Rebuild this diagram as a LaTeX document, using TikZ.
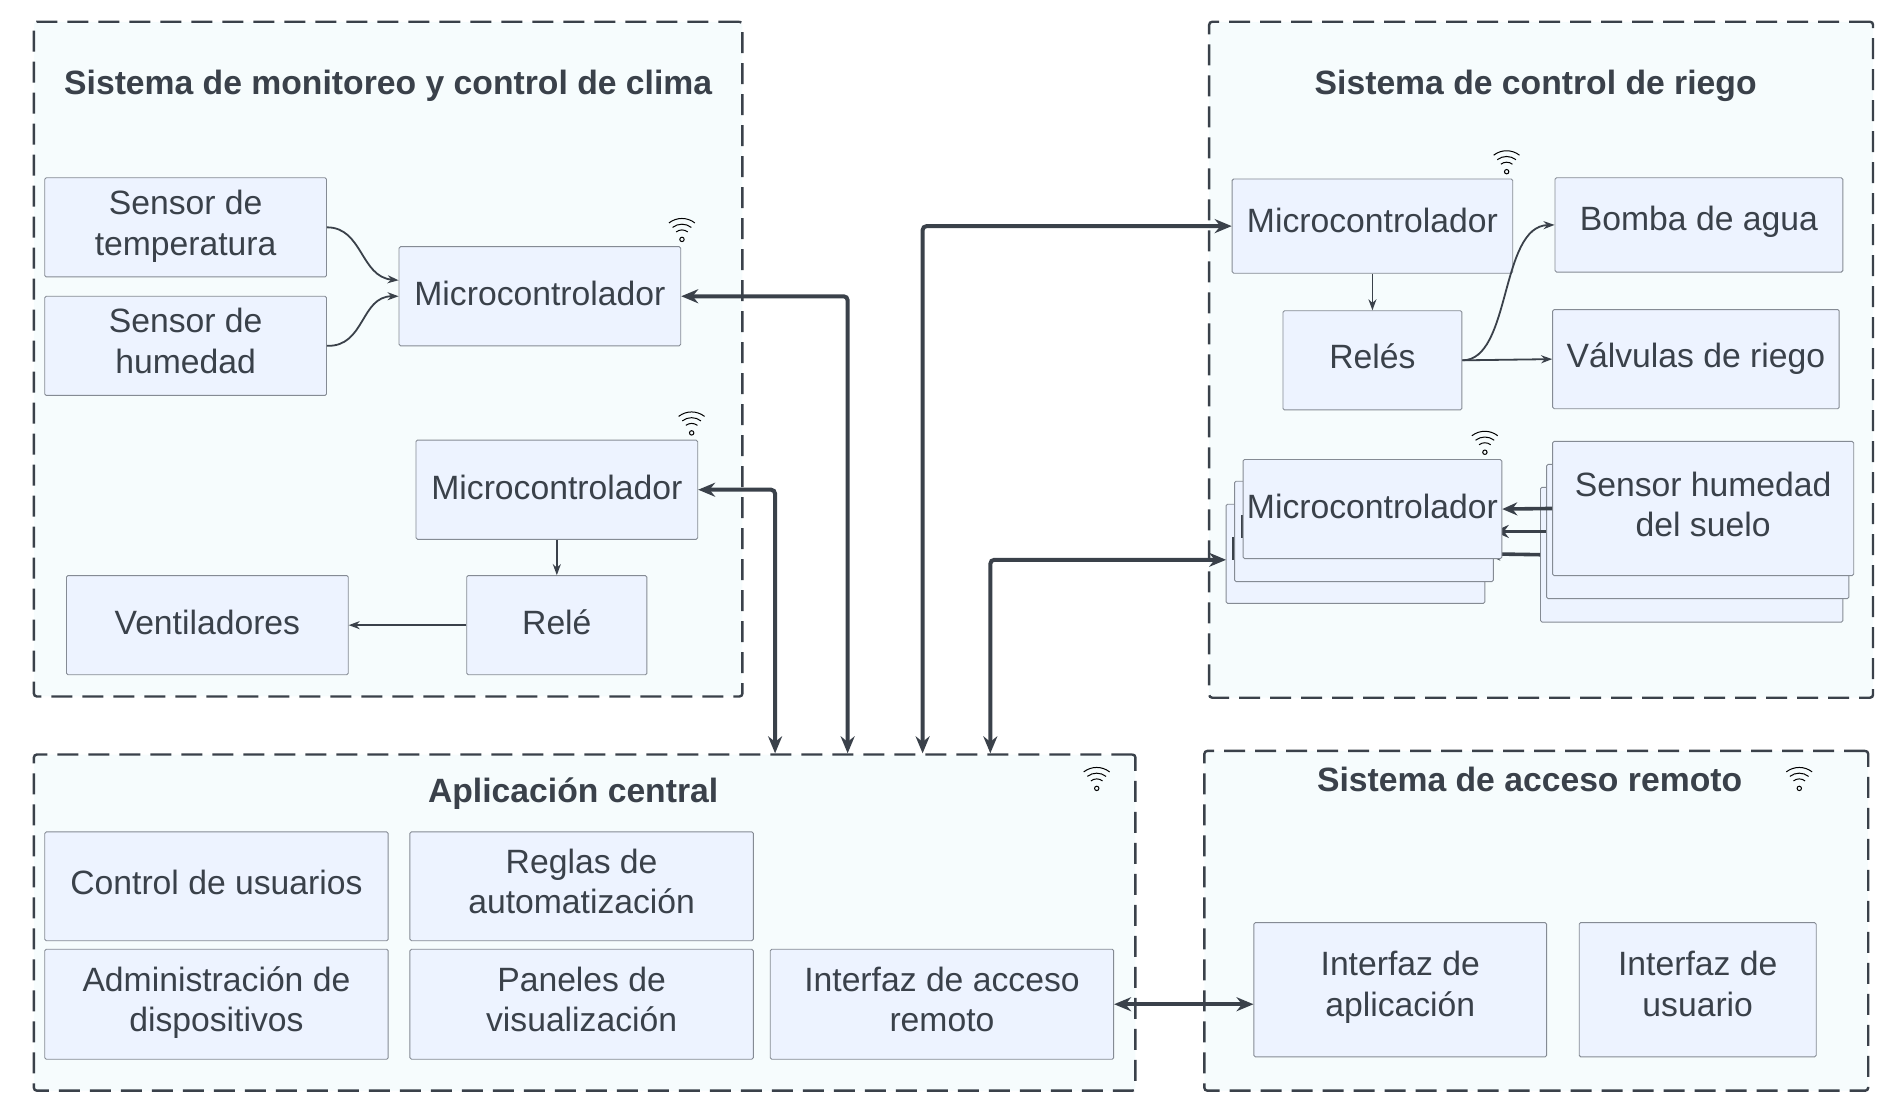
\documentclass[tikz,border=0pt]{standalone}
\usepackage{fontspec}
\setmainfont{Liberation Sans}
\usetikzlibrary{arrows.meta}
\definecolor{ink}{HTML}{3A414A}
\definecolor{grp}{HTML}{F6FCFD}
\definecolor{bxf}{HTML}{EDF3FF}
\definecolor{bxl}{HTML}{858B94}
\tikzset{
  x=1.2092pt,y=-1.2092pt,
  lbl/.style={font=\fontsize{33.7}{40.5}\selectfont,text=ink},
  bxs/.style={draw=bxl,line width=0.9pt,fill=bxf,rounded corners=1.5pt,inner sep=0pt,lbl},
  grps/.style={draw=ink,line width=2.4pt,fill=grp,rounded corners=3pt,dash pattern=on 21pt off 10pt,inner sep=0pt},
  ttl/.style={font=\fontsize{33.7}{40.5}\selectfont\bfseries,text=ink,inner sep=0pt,text height=25pt,text depth=7pt},
  thick arrow/.style={draw=ink,line width=4pt,rounded corners=4pt,{Stealth[length=17pt,width=14pt]}-{Stealth[length=17pt,width=14pt]}},
  thin arrow/.style={draw=ink,line width=1.8pt,-{Stealth[length=11pt,width=8pt]}},
  mid arrow/.style={draw=ink,line width=3.6pt,-{Stealth[length=15pt,width=13pt]}},
  wifi/.pic={
    \draw[black,line width=1pt] (0pt,0pt) circle[radius=2.2pt];
    \draw[black,line width=1pt] (-5.8pt,7.5pt) arc[start angle=128,end angle=52,radius=9.4pt];
    \draw[black,line width=1pt] (-9.4pt,12pt) arc[start angle=128,end angle=52,radius=15.2pt];
    \draw[black,line width=1pt] (-13pt,16.5pt) arc[start angle=128,end angle=52,radius=21pt];
  }
}
\newcommand\lbox[7][-8pt]{%
  \pgfmathsetlengthmacro{\bw}{(#5-#3)*1.2092pt}%
  \pgfmathsetlengthmacro{\bh}{(#6-#4)*1.2092pt}%
  \node[bxs,minimum width=\bw,minimum height=\bh] (#2) at ({(#3+#5)/2},{(#4+#6)/2})
    {\raisebox{#1}[0pt][0pt]{\begin{tabular}{@{}c@{}}#7\end{tabular}}};%
}
\newcommand\gbox[5]{%
  \pgfmathsetlengthmacro{\bw}{(#4-#2)*1.2092pt}%
  \pgfmathsetlengthmacro{\bh}{(#5-#3)*1.2092pt}%
  \node[grps,minimum width=\bw,minimum height=\bh] (#1) at ({(#2+#4)/2},{(#3+#5)/2}) {};%
}
\begin{document}
\begin{tikzpicture}
\useasboundingbox (0,0) rectangle (1568,921.3);
% groups
\gbox{gclima}{28}{18}{614}{576}
\gbox{griego}{1000}{18}{1549}{577}
\gbox{gapp}{28}{624}{939}{902}
\gbox{gacc}{996}{621}{1545}{902}
\node[ttl] (tclima) at (321,70.5) {Sistema de monitoreo y control de clima};
\node[ttl] (triego) at (1270,70.5) {Sistema de control de riego};
\node[ttl] (tapp) at (474,656.5) {Aplicación central};
\node[ttl] (tacc) at (1265,647.5) {Sistema de acceso remoto};
% end points on the central application frame
\coordinate (p1) at (701,623);
\coordinate (p2) at (641,623);
\coordinate (p3) at (763,623);
\coordinate (p4) at (819,623);
% clima
\lbox[-6pt]{stemp}{37}{147}{270}{229}{Sensor de\\temperatura}
\lbox[-5.5pt]{shum}{37}{245}{270}{327}{Sensor de\\humedad}
\lbox[-7.5pt]{mone}{330}{204}{563}{286}{Microcontrolador}
\lbox{mtwo}{344}{364}{577}{446}{Microcontrolador}
\lbox[-7pt]{rele}{386}{476}{535}{558}{Relé}
\lbox[-7pt]{vent}{55}{476}{288}{558}{Ventiladores}
\draw[thin arrow] (stemp.east) .. controls (300,188) and (298,229) .. ([yshift=16pt]mone.west);
\draw[thin arrow] (shum.east) .. controls (302,287) and (298,245) .. (mone.west);
\draw[thin arrow] (mtwo.south) -- (rele.north);
\draw[thin arrow] (rele.west) -- (vent.east);
% riego
\lbox[-5pt]{mthree}{1019}{148}{1251}{226}{Microcontrolador}
\lbox[-6.3pt]{reles}{1061}{257}{1209}{339}{Relés}
\lbox[-4pt]{bomba}{1286}{147}{1524}{225}{Bomba de agua}
\lbox[-6.3pt]{valv}{1284}{256}{1521}{338}{Válvulas de riego}
\draw[thin arrow] (mthree.south) -- (reles.north);
\draw[thin arrow] (reles.east) .. controls (1250,298) and (1240,187) .. (bomba.west);
\draw[thin arrow] (reles.east) -- (valv.west);
% stack
\draw[thick arrow] (p4) |- ([yshift=-6pt]1014,458);
\lbox{mc}{1014}{417}{1228}{499}{}
\lbox{sc}{1274}{403}{1524}{514.5}{}
\draw[mid arrow] (sc.west) -- (mc.east);
\draw[ink,line width=2pt] (1020,444) -- (1020,463.5);
\lbox{mb}{1021}{398}{1235}{481}{}
\lbox{sb}{1279}{384}{1529}{495}{}
\draw[mid arrow] (sb.west) -- (mb.east);
\draw[ink,line width=2pt] (1027,426) -- (1027,445);
\lbox{ma}{1028}{380}{1242}{462}{Microcontrolador}
\lbox[-6pt]{sa}{1284}{365}{1533}{476}{Sensor humedad\\del suelo}
\draw[mid arrow] (sa.west) -- (ma.east);
% application
\lbox[-6pt]{cu}{37}{688}{321}{778}{Control de usuarios}
\lbox[-5.3pt]{ra}{339}{688}{623}{778}{Reglas de\\automatización}
\lbox[-5.5pt]{ad}{37}{785}{321}{876}{Administración de\\dispositivos}
\lbox[-5.5pt]{pv}{339}{785}{623}{876}{Paneles de\\visualización}
\lbox[-5.5pt]{ir}{637}{785}{921}{876}{Interfaz de acceso\\remoto}
% remote
\lbox[-4.3pt]{ia}{1037}{763}{1279}{874}{Interfaz de\\aplicación}
\lbox[-4.3pt]{iu}{1306}{763}{1502}{874}{Interfaz de\\usuario}
% thick connectors
\draw[thick arrow] (mone.east) -| (p1);
\draw[thick arrow] (mtwo.east) -| (p2);
\draw[thick arrow] (p3) |- (mthree.west);
\draw[thick arrow] (ir.east) -- (ir.east -| ia.west);
% wifi
\path (564,198) pic {wifi};
\path (572,358) pic {wifi};
\path (1246,142) pic {wifi};
\path (1228,374) pic {wifi};
\path (907,652) pic {wifi};
\path (1488,652) pic {wifi};
\end{tikzpicture}
\end{document}
